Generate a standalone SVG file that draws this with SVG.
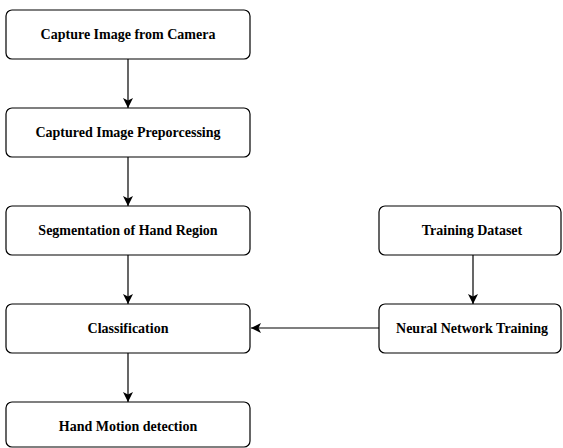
<svg xmlns="http://www.w3.org/2000/svg" width="563" height="448" viewBox="0 0 563 448">
<defs>
<marker id="ah" viewBox="0 0 10 10" refX="10" refY="5" markerWidth="10" markerHeight="10" markerUnits="userSpaceOnUse" orient="auto">
<path d="M0,0 L10,5 L0,10 L2.5,5 z" fill="#000"/>
</marker>
</defs>
<style>
.box{fill:#fff;stroke:#000;stroke-width:1.2}
.lbl{font-weight:bold;font-size:14px;text-anchor:middle;fill:#000}
.edge{stroke:#000;stroke-width:1.2;fill:none;marker-end:url(#ah)}
</style>
<rect width="563" height="448" fill="#fff"/>
<g id="connectors">
<line class="edge" x1="128" y1="59" x2="128" y2="108"/>
<line class="edge" x1="128" y1="157" x2="128" y2="206"/>
<line class="edge" x1="128" y1="255" x2="128" y2="304"/>
<line class="edge" x1="128" y1="353" x2="128" y2="402"/>
<line class="edge" x1="473" y1="255" x2="473" y2="304"/>
<line class="edge" x1="379" y1="328" x2="251" y2="328"/>
</g>
<g font-family="Liberation Serif, Times New Roman, serif">
<g id="n1"><rect class="box" x="6" y="10" width="244" height="49" rx="6"/><text class="lbl" x="128" y="39">Capture Image from Camera</text></g>
<g id="n2"><rect class="box" x="6" y="108" width="244" height="49" rx="6"/><text class="lbl" x="128" y="137">Captured Image Preporcessing</text></g>
<g id="n3"><rect class="box" x="6" y="206" width="244" height="49" rx="6"/><text class="lbl" x="128" y="235">Segmentation of Hand Region</text></g>
<g id="n4"><rect class="box" x="6" y="304" width="244" height="49" rx="6"/><text class="lbl" x="128" y="333">Classification</text></g>
<g id="n5"><rect class="box" x="6" y="402" width="244" height="45" rx="6"/><text class="lbl" x="128" y="431">Hand Motion detection</text></g>
<g id="n6"><rect class="box" x="379" y="206" width="182" height="49" rx="6"/><text class="lbl" x="472" y="235">Training Dataset</text></g>
<g id="n7"><rect class="box" x="379" y="304" width="182" height="49" rx="6"/><text class="lbl" x="472" y="333">Neural Network Training</text></g>
</g>
</svg>
